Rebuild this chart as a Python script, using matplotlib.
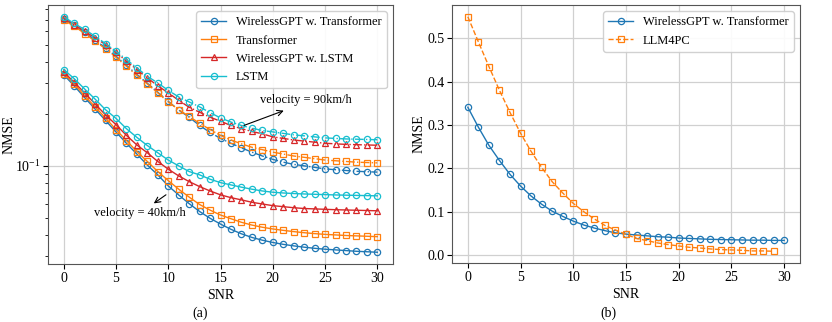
import numpy as np
import matplotlib
matplotlib.use("Agg")
import matplotlib.pyplot as plt

plt.rcParams['font.family'] = ['Liberation Serif', 'DejaVu Serif']
plt.rcParams['mathtext.fontset'] = 'stix'
plt.rcParams['font.size'] = 10

snr = list(range(31))
snr_b = list(range(30))

# (a) 40 km/h, solid lines
gpt_tf_40 = [0.336, 0.290, 0.248, 0.213, 0.183, 0.157, 0.135, 0.117, 0.101, 0.0887,
             0.0766, 0.0679, 0.0605, 0.0545, 0.0498, 0.0461, 0.0430, 0.0405, 0.0386, 0.0372,
             0.0361, 0.0352, 0.0345, 0.0339, 0.0334, 0.0330, 0.0327, 0.0324, 0.0321, 0.0319, 0.0317]
tf_40 = [0.341, 0.298, 0.254, 0.219, 0.189, 0.162, 0.140, 0.121, 0.106, 0.0927,
         0.0822, 0.0733, 0.0660, 0.0598, 0.0555, 0.0520, 0.0495, 0.0472, 0.0455, 0.0442,
         0.0432, 0.0424, 0.0417, 0.0411, 0.0406, 0.0402, 0.0399, 0.0396, 0.0394, 0.0392, 0.0390]
gpt_lstm_40 = [0.349, 0.304, 0.264, 0.228, 0.197, 0.173, 0.150, 0.132, 0.119, 0.106,
               0.0957, 0.0875, 0.0811, 0.0759, 0.0716, 0.0680, 0.0655, 0.0636, 0.0616, 0.0602,
               0.0589, 0.0581, 0.0573, 0.0567, 0.0564, 0.0561, 0.0558, 0.0556, 0.0554, 0.0552, 0.0550]
lstm_40 = [0.360, 0.319, 0.278, 0.243, 0.211, 0.188, 0.164, 0.146, 0.131, 0.119,
           0.108, 0.100, 0.0927, 0.0887, 0.0837, 0.0800, 0.0776, 0.0753, 0.0733, 0.0716,
           0.0704, 0.0697, 0.0692, 0.0688, 0.0685, 0.0682, 0.0679, 0.0677, 0.0675, 0.0673, 0.0671]

# (a) 90 km/h, dash-dot lines
gpt_tf_90 = [0.704, 0.648, 0.590, 0.533, 0.480, 0.430, 0.381, 0.337, 0.300, 0.266,
             0.236, 0.210, 0.191, 0.171, 0.156, 0.144, 0.135, 0.127, 0.120, 0.114,
             0.109, 0.105, 0.102, 0.100, 0.098, 0.096, 0.095, 0.094, 0.093, 0.0925, 0.092]
tf_90 = [0.694, 0.641, 0.581, 0.525, 0.474, 0.424, 0.376, 0.333, 0.297, 0.264,
         0.234, 0.211, 0.193, 0.176, 0.162, 0.150, 0.141, 0.134, 0.128, 0.124,
         0.120, 0.117, 0.114, 0.112, 0.110, 0.108, 0.107, 0.106, 0.105, 0.1045, 0.104]
gpt_lstm_90 = [0.716, 0.655, 0.600, 0.548, 0.502, 0.453, 0.402, 0.360, 0.322, 0.290,
               0.264, 0.239, 0.218, 0.204, 0.191, 0.181, 0.171, 0.164, 0.158, 0.153,
               0.147, 0.144, 0.141, 0.139, 0.137, 0.135, 0.134, 0.133, 0.1325, 0.132, 0.1315]
lstm_90 = [0.726, 0.664, 0.613, 0.561, 0.508, 0.459, 0.411, 0.368, 0.329, 0.301,
           0.273, 0.250, 0.234, 0.219, 0.203, 0.189, 0.179, 0.171, 0.165, 0.160,
           0.157, 0.154, 0.151, 0.149, 0.147, 0.145, 0.144, 0.143, 0.1425, 0.142, 0.1415]

# (b)
gpt_tf_b = [0.341, 0.295, 0.253, 0.218, 0.186, 0.159, 0.136, 0.117, 0.101, 0.089,
            0.078, 0.069, 0.062, 0.056, 0.051, 0.048, 0.046, 0.044, 0.042, 0.041,
            0.039, 0.038, 0.037, 0.036, 0.0355, 0.035, 0.0345, 0.034, 0.034, 0.0335, 0.0335]
llm4pc = [0.550, 0.492, 0.435, 0.380, 0.329, 0.281, 0.239, 0.202, 0.169, 0.143,
          0.119, 0.0997, 0.083, 0.068, 0.0575, 0.0475, 0.038, 0.033, 0.0276, 0.0238,
          0.0207, 0.0176, 0.016, 0.0138, 0.0123, 0.0115, 0.0107, 0.0092, 0.0092, 0.0084]

blue, orange, red, cyan = '#1f77b4', '#ff7f0e', '#d62728', '#17becf'

fig = plt.figure(figsize=(8.32, 3.22), dpi=100)
ax1 = fig.add_axes([48 / 832, 1 - 264 / 322, 345 / 832, 259 / 322])
ax2 = fig.add_axes([452 / 832, 1 - 263 / 322, 348 / 832, 258 / 322])

mk = dict(markersize=4.5, markerfacecolor='none', linewidth=1.0, markeredgewidth=0.9)

series = [(gpt_tf_40, gpt_tf_90, blue, 'o', 'WirelessGPT w. Transformer'),
          (tf_40, tf_90, orange, 's', 'Transformer'),
          (gpt_lstm_40, gpt_lstm_90, red, '^', 'WirelessGPT w. LSTM'),
          (lstm_40, lstm_90, cyan, 'o', 'LSTM')]
for low, high, c, m, lab in series:
    ax1.plot(snr, low, color=c, marker=m, linestyle='-', label=lab, **mk)
    ax1.plot(snr, high, color=c, marker=m, linestyle='-.', **mk)

ax1.set_yscale('log')
ax1.set_xticks([0, 5, 10, 15, 20, 25, 30])
ax1.set_xlabel('SNR')
ax1.set_ylabel('NMSE')
ax1.yaxis.set_label_coords(-0.094, 0.5)
ax1.grid(True, color='#d0d0d0', linewidth=0.9)
ax1.legend(loc='upper right', fontsize=9, framealpha=0.9, edgecolor='#cccccc')

ax1.annotate('', xy=(21.3, 0.211), xytext=(17, 0.169),
             arrowprops=dict(arrowstyle='->', color='black', lw=0.8))
ax1.text(23.2, 0.241, 'velocity = 90km/h', ha='center', va='center', fontsize=9)
ax1.annotate('', xy=(8.4, 0.0594), xytext=(10.0, 0.0695),
             arrowprops=dict(arrowstyle='->', color='black', lw=0.8))
ax1.text(7.3, 0.0532, 'velocity = 40km/h', ha='center', va='center', fontsize=9)

ax2.plot(snr, gpt_tf_b, color=blue, marker='o', linestyle='-', label='WirelessGPT w. Transformer', **mk)
ax2.plot(snr_b, llm4pc, color=orange, marker='s', linestyle='--', label='LLM4PC', **mk)
ax2.set_xticks([0, 5, 10, 15, 20, 25, 30])
ax2.set_xlabel('SNR')
ax2.set_ylabel('NMSE')
ax2.yaxis.set_label_coords(-0.075, 0.5)
ax2.grid(True, color='#d0d0d0', linewidth=0.9)
ax2.legend(loc='upper right', fontsize=9, framealpha=0.9, edgecolor='#cccccc')

for ax in (ax1, ax2):
    for sp in ax.spines.values():
        sp.set_color('#555555')
    ax.tick_params(labelsize=10, pad=2)
    ax.xaxis.set_label_coords(0.5, -0.095)

fig.text(200 / 832, 1 - 313 / 322, '(a)', ha='center', va='center', fontsize=10)
fig.text(608 / 832, 1 - 313 / 322, '(b)', ha='center', va='center', fontsize=10)

fig.savefig('out.png', dpi=100)
